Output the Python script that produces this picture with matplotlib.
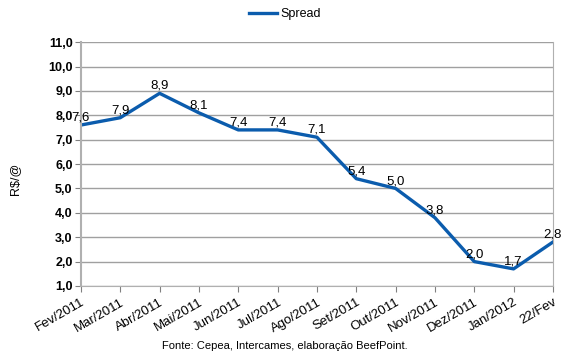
import matplotlib.pyplot as plt
from matplotlib.ticker import FuncFormatter

# Data
meses = ['Fev/2011', 'Mar/2011', 'Abr/2011', 'Mai/2011', 'Jun/2011', 'Jul/2011',
         'Ago/2011', 'Set/2011', 'Out/2011', 'Nov/2011', 'Dez/2011', 'Jan/2012', '22/Fev']
spread = [7.6, 7.9, 8.9, 8.1, 7.4, 7.4, 7.1, 5.4, 5.0, 3.8, 2.0, 1.7, 2.8]

plt.rcParams['font.family'] = ['Liberation Sans', 'DejaVu Sans']

fig = plt.figure(figsize=(5.7, 3.57), dpi=100)
ax = fig.add_axes([0.142, 0.199, 0.828, 0.683])

x = list(range(len(meses)))
line, = ax.plot(x, spread, color='#0b5cad', linewidth=2.4, label='Spread')

for xi, yi in zip(x, spread):
    ax.annotate(f'{yi:.1f}'.replace('.', ','), (xi, yi), xytext=(0, 1),
                textcoords='offset points', ha='center', va='bottom', fontsize=9.5)

ax.set_xlim(0, len(meses) - 1)
ax.set_ylim(1, 11)
ax.set_yticks([1, 2, 3, 4, 5, 6, 7, 8, 9, 10, 11])
ax.yaxis.set_major_formatter(FuncFormatter(lambda v, p: f'{v:.1f}'.replace('.', ',')))
ax.set_xticks(x)
ax.set_xticklabels(meses, rotation=30, ha='right', rotation_mode='anchor', fontsize=9.5)
for lbl in ax.get_yticklabels():
    lbl.set_fontweight('bold')
    lbl.set_fontsize(9)

ax.grid(axis='y', color='#a0a0a0', linewidth=1)
ax.set_axisbelow(True)
ax.spines['top'].set_visible(False)
for s in ['left', 'right', 'bottom']:
    ax.spines[s].set_color('#b0b0b0')
ax.spines['left'].set_linewidth(1.5)
ax.tick_params(axis='both', color='#808080', length=4)
ax.tick_params(axis='y', pad=2)

fig.text(15 / 570, 0.5, 'R$/@', rotation=90, ha='center', va='center', fontsize=9)

fig.legend(handles=[line], loc='center', bbox_to_anchor=(0.5, 0.96), frameon=False,
           fontsize=9, handlelength=2.2, handletextpad=0.3)
fig.text(0.5, 0.022, 'Fonte: Cepea, Intercames, elaboração BeefPoint.', ha='center', fontsize=8)

fig.savefig('out.png', dpi=100)
